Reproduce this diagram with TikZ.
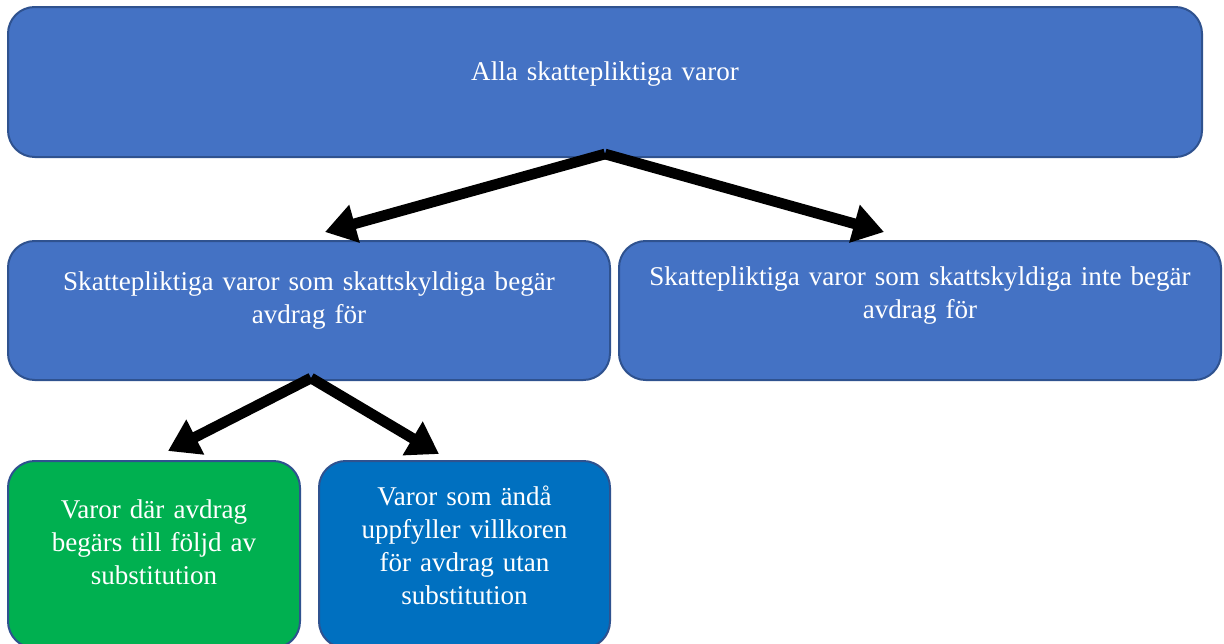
\documentclass[tikz,border=0pt]{standalone}
\usepackage{fontspec}
\setmainfont{Liberation Serif}
\usetikzlibrary{arrows.meta}
\definecolor{boxblue}{HTML}{4472C4}
\definecolor{boxline}{HTML}{2F528F}
\definecolor{boxgreen}{HTML}{00B050}
\definecolor{boxdark}{HTML}{0070C0}
\tikzset{
  box/.style={draw=boxline, line width=1.5pt, rounded corners=20pt, inner sep=0pt},
  txt/.style={text=white, font=\fontsize{20.3}{24.75}\selectfont, align=center, anchor=base, inner sep=0pt},
  bigarrow/.style={line width=8pt, -{Triangle[length=23pt,width=28pt]}}
}
\begin{document}
\begin{tikzpicture}[x=0.75pt,y=-0.75pt]
\useasboundingbox (0,0) rectangle (1224,643);
% boxes
\node[box, fill=boxblue, minimum width=895.5pt, minimum height=112.5pt] (top) at (605,82) {};
\node[box, fill=boxblue, minimum width=451.5pt, minimum height=104.25pt] (ml) at (309,310.5) {};
\node[box, fill=boxblue, minimum width=451.5pt, minimum height=104.25pt] (mr) at (920,310.5) {};
\node[box, fill=boxgreen, minimum width=219pt, minimum height=140.25pt] (bl) at (154,554.5) {};
\node[box, fill=boxdark, minimum width=218.25pt, minimum height=140.25pt] (br) at (464.5,554.5) {};
% texts
\node[txt, text width=800pt] (toptxt) at (605,80) {Alla skattepliktiga varor};
\node[txt, text width=445pt] (mltxt) at (309,290) {Skattepliktiga varor som skattskyldiga begär\\avdrag för};
\node[txt, text width=445pt] (mrtxt) at (920,285) {Skattepliktiga varor som skattskyldiga inte begär\\avdrag för};
\node[txt, text width=215pt] (bltxt) at (154,518) {Varor där avdrag\\begärs till följd av\\substitution};
\node[txt, text width=215pt] (brtxt) at (464.5,505) {Varor som ändå\\uppfyller villkoren\\för avdrag utan\\substitution};
% arrows
\coordinate (a0) at (605,154);
\coordinate (a1) at (325,232);
\coordinate (a2) at (884,232);
\coordinate (b0) at (311,378);
\coordinate (b1) at (168,451);
\coordinate (b2) at (439,454);
\draw[bigarrow] (a0) -- (a1);
\draw[bigarrow] (a0) -- (a2);
\draw[bigarrow] (b0) -- (b1);
\draw[bigarrow] (b0) -- (b2);
\end{tikzpicture}
\end{document}
